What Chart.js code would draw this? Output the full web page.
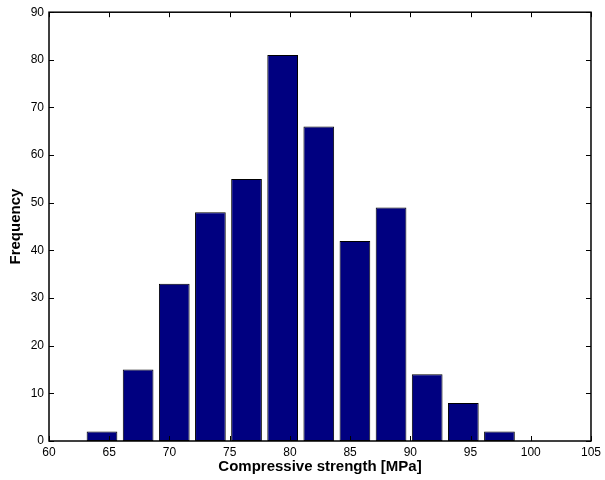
<!DOCTYPE html>
<html>
<head>
<meta charset="utf-8">
<script src="https://cdn.jsdelivr.net/npm/chart.js@4/dist/chart.umd.min.js"></script>
<style>
  html, body { margin: 0; padding: 0; background: #fff; }
  #wrap { width: 605px; height: 480px; }
</style>
</head>
<body>
<div id="wrap"><canvas id="histChart" width="605" height="480"></canvas></div>
<script>
// bin centres (MPa) and counts
const binCenters = [64.4, 67.4, 70.4, 73.4, 76.4, 79.4, 82.4, 85.4, 88.4, 91.4, 94.4, 97.4, 100.4];
const counts = [2, 15, 33, 48, 55, 81, 66, 42, 49, 14, 8, 2, 0];
const xTicks = [60, 65, 70, 75, 80, 85, 90, 95, 100, 105];
const yTicks = [0, 10, 20, 30, 40, 50, 60, 70, 80, 90];

// matlab style: ticks pointing inward on all four sides, plus the box
const boxTicks = {
    id: 'boxTicks',
    afterDatasetsDraw(chart) {
        const { ctx, chartArea: a, scales } = chart;
        const len = 5;
        ctx.save();
        ctx.strokeStyle = '#000';
        ctx.lineWidth = 1;
        ctx.beginPath();
        xTicks.forEach(v => {
            const px = Math.round(scales.x.getPixelForValue(v)) + 0.5;
            ctx.moveTo(px, a.bottom); ctx.lineTo(px, a.bottom - len);
            ctx.moveTo(px, a.top); ctx.lineTo(px, a.top + len);
        });
        yTicks.forEach(v => {
            const py = Math.round(scales.y.getPixelForValue(v)) + 0.5;
            ctx.moveTo(a.left, py); ctx.lineTo(a.left + len, py);
            ctx.moveTo(a.right, py); ctx.lineTo(a.right - len, py);
        });
        ctx.stroke();
        ctx.lineWidth = 1.5;
        ctx.strokeRect(a.left, a.top, a.right - a.left, a.bottom - a.top);
        ctx.restore();
    }
};

const fontFamily = 'Liberation Sans, Arial, sans-serif';

const ctx = document.getElementById('histChart').getContext('2d');
new Chart(ctx, {
    type: 'bar',
    data: {
        datasets: [{
            data: binCenters.map((c, i) => ({ x: c, y: counts[i] })),
            backgroundColor: '#000080',
            borderColor: '#000000',
            borderWidth: 1,
            borderSkipped: false,
            categoryPercentage: 1.0,
            barPercentage: 0.85
        }]
    },
    options: {
        responsive: false,
        animation: false,
        layout: { padding: { top: 11, right: 12, left: 0, bottom: 0 } },
        plugins: {
            legend: { display: false },
            tooltip: { enabled: false }
        },
        scales: {
            x: {
                type: 'linear',
                min: 60,
                max: 105,
                offset: false,
                afterFit: s => { s.height = 39; },
                afterBuildTicks: s => { s.ticks = xTicks.map(v => ({ value: v })); },
                grid: { display: false, drawTicks: false },
                border: { display: false },
                ticks: {
                    padding: 4,
                    color: '#000',
                    font: { family: fontFamily, size: 12 }
                },
                title: {
                    display: true,
                    text: 'Compressive strength [MPa]',
                    color: '#000',
                    padding: { top: 0, bottom: 4 },
                    font: { family: fontFamily, size: 15, weight: 'bold' }
                }
            },
            y: {
                min: 0,
                max: 90,
                afterFit: s => { s.width = 49; },
                afterBuildTicks: s => { s.ticks = yTicks.map(v => ({ value: v })); },
                grid: { display: false, drawTicks: false },
                border: { display: false },
                ticks: {
                    padding: 5,
                    color: '#000',
                    font: { family: fontFamily, size: 12 }
                },
                title: {
                    display: true,
                    text: 'Frequency',
                    color: '#000',
                    padding: { top: 7, bottom: 0 },
                    font: { family: fontFamily, size: 15, weight: 'bold' }
                }
            }
        }
    },
    plugins: [boxTicks]
});
</script>
</body>
</html>
